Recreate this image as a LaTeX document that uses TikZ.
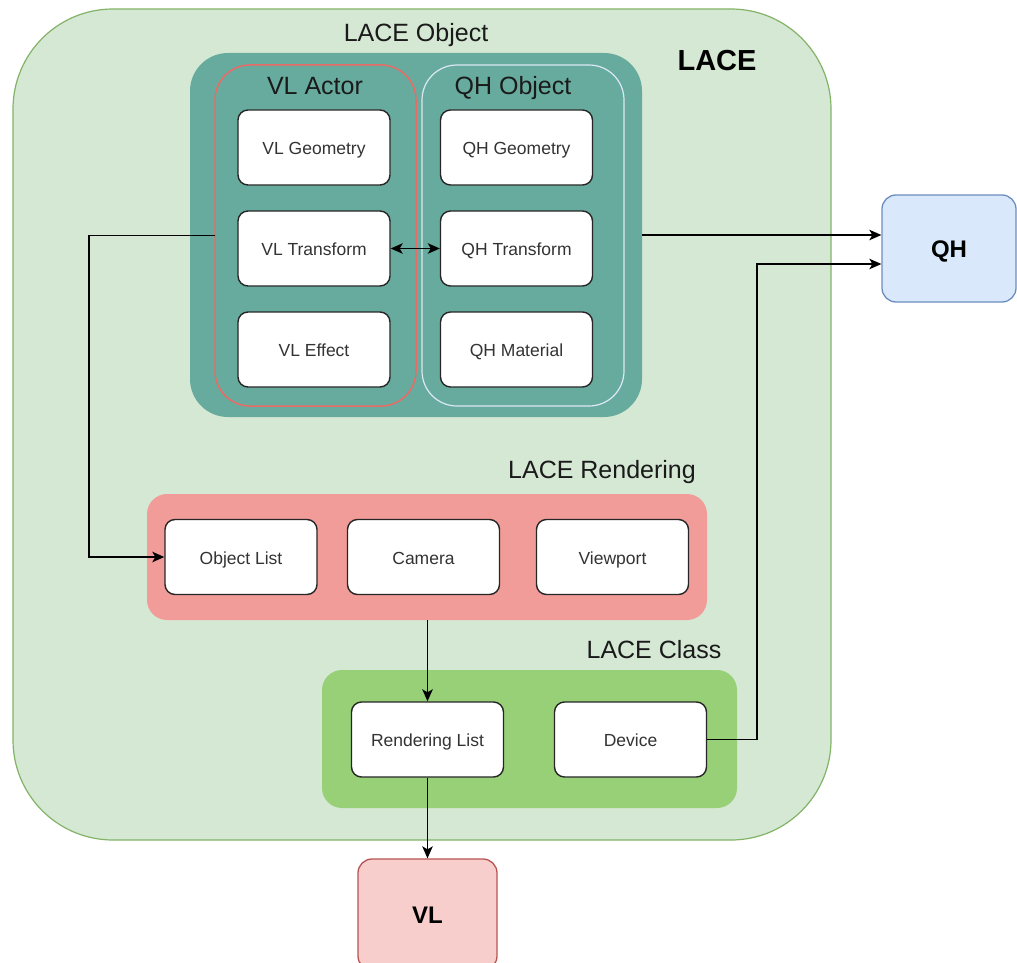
\documentclass[tikz,border=0pt]{standalone}
\usepackage{fontspec}
\setmainfont{Liberation Sans}
\usetikzlibrary{arrows.meta}

\definecolor{laceFill}{HTML}{D5E8D4}
\definecolor{laceLine}{HTML}{82B366}
\definecolor{objFill}{HTML}{67AB9F}
\definecolor{actorLine}{HTML}{EA6B66}
\definecolor{qhObjLine}{HTML}{DCE8F5}
\definecolor{renderFill}{HTML}{F19C99}
\definecolor{classFill}{HTML}{97D077}
\definecolor{qhFill}{HTML}{DAE8FC}
\definecolor{qhLine}{HTML}{6C8EBF}
\definecolor{vlFill}{HTML}{F8CECC}
\definecolor{vlLine}{HTML}{B85450}
\definecolor{ink}{HTML}{333333}
\definecolor{titleInk}{HTML}{1A1A1A}

\tikzset{
  container/.style={inner sep=0pt, outer sep=0pt},
  item/.style={draw=black!85, line width=1.4pt, fill=white, rounded corners=10pt,
    minimum width=152pt, minimum height=75pt, inner sep=0pt,
    text height=16pt, text depth=2pt,
    font=\fontsize{17.5}{20}\selectfont, text=ink},
  title/.style={font=\fontsize{25}{28}\selectfont, text=titleInk, inner sep=0pt,
    text height=22pt, text depth=3pt},
  ext/.style={line width=1.3pt, rounded corners=14pt, inner sep=0pt,
    text height=19pt, text depth=2pt,
    font=\fontsize{24}{28}\selectfont\bfseries, text=black},
  tip/.tip={Stealth[length=12pt,width=10.5pt,inset=3pt]},
  link/.style={line width=1.5pt, draw=black, -tip},
  twoway/.style={line width=1.5pt, draw=black, tip-tip}
}

\begin{document}
\begin{tikzpicture}[x=1pt,y=-1pt]
  \useasboundingbox (0,0) rectangle (1017,963);

  % outer LACE region
  \node[container, draw=laceLine, line width=1.2pt, fill=laceFill, rounded corners=100pt,
        minimum width=818pt, minimum height=831pt] (lace) at (422,424.5) {};
  \node[title] (laceobjtitle) at (416,32) {LACE Object};
  \node[title, font=\fontsize{29}{32}\selectfont\bfseries, text=black,
        text height=24pt, text depth=3pt] (lacetitle) at (717,60) {LACE};

  % LACE Object group
  \node[container, fill=objFill, rounded corners=38pt,
        minimum width=452pt, minimum height=364pt] (obj) at (416,235) {};
  \node[container, draw=actorLine, line width=1.5pt, rounded corners=35pt,
        minimum width=201pt, minimum height=341pt] (actor) at (315.5,235.5) {};
  \node[container, draw=qhObjLine, line width=1.2pt, rounded corners=35pt,
        minimum width=202pt, minimum height=341pt] (qhobj) at (523,235.5) {};
  \node[title] (actortitle) at (315,85) {VL Actor};
  \node[title] (qhobjtitle) at (513,85) {QH Object};

  \node[item] (vlgeo) at (314,147.5) {VL Geometry};
  \node[item] (vltr)  at (314,248.5) {VL Transform};
  \node[item] (vleff) at (314,349.5) {VL Effect};
  \node[item] (qhgeo) at (516.5,147.5) {QH Geometry};
  \node[item] (qhtr)  at (516.5,248.5) {QH Transform};
  \node[item] (qhmat) at (516.5,349.5) {QH Material};

  % LACE Rendering group
  \node[container, fill=renderFill, rounded corners=20pt,
        minimum width=560pt, minimum height=126pt] (render) at (427,557) {};
  \node[title] (rendertitle) at (602,469) {LACE Rendering};
  \node[item] (objlist)  at (241,557) {Object List};
  \node[item] (camera)   at (423.5,557) {Camera};
  \node[item] (viewport) at (612.5,557) {Viewport};

  % LACE Class group
  \node[container, fill=classFill, rounded corners=20pt,
        minimum width=415pt, minimum height=138pt] (cls) at (529.5,739) {};
  \node[title] (clstitle) at (654,649) {LACE Class};
  \node[item] (rlist)  at (427.5,739.5) {Rendering List};
  \node[item] (device) at (630.5,739.5) {Device};

  % external libraries
  \node[ext, draw=qhLine, fill=qhFill, minimum width=134pt, minimum height=107pt] (qh) at (949,248.5) {QH};
  \node[ext, draw=vlLine, fill=vlFill, minimum width=139pt, minimum height=111pt] (vl) at (427.5,914.5) {VL};

  % connectors
  \draw[link] (actor.west) -- ++(-126,0) |- (objlist.west);
  \draw[twoway] (vltr.east) -- (qhtr.west);
  \draw[link] (obj.east) -- (obj.east -| qh.west);
  \draw[link] (device.east) -- ++(50,0) |- ([yshift=-15.5pt]qh.west);
  \draw[link] (render.south -| rlist.north) -- (rlist.north);
  \draw[link] (rlist.south) -- (vl.north);
\end{tikzpicture}
\end{document}
